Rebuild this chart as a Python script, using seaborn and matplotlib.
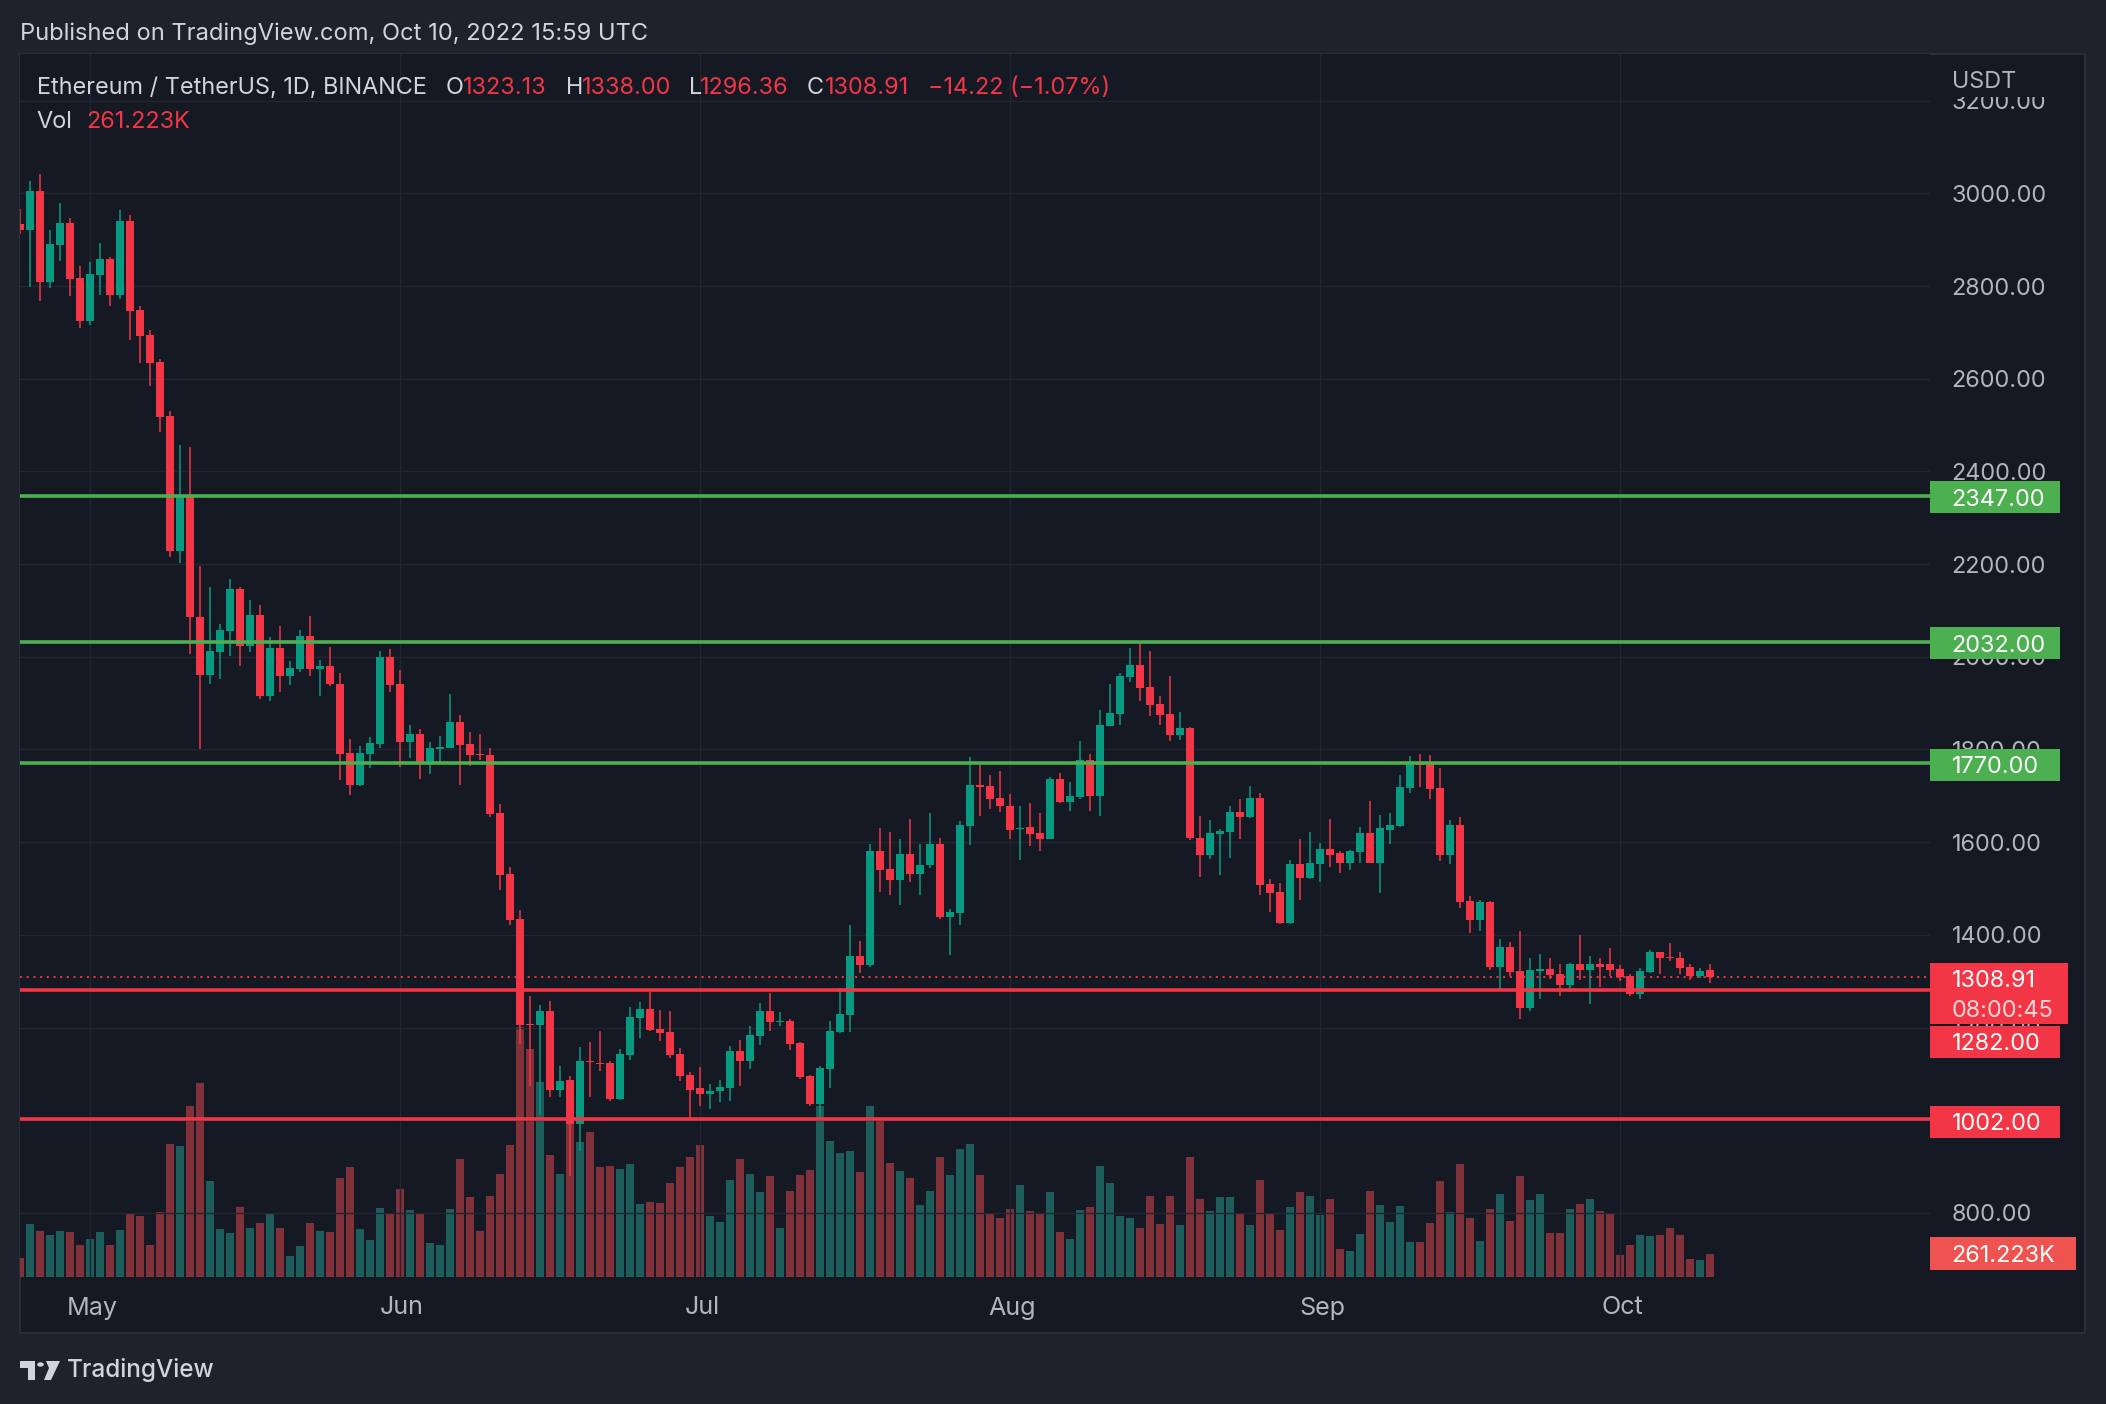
import numpy as np
import pandas as pd
import matplotlib
matplotlib.use("Agg")
import matplotlib.pyplot as plt
import seaborn as sns
from matplotlib.patches import Rectangle, Polygon, Circle

W, H, DPI = 2106, 1404, 100

# ---------------- data (day 0 = 2022-04-25, first value = 2022-04-24) ----------------
days = list(range(-1, 169))
opens = [
    2933, 2921, 3006, 2809, 2889, 2937, 2817, 2725, 2824, 2858,
    2781, 2941, 2748, 2694, 2636, 2520, 2228, 2345, 2086, 1961,
    2010, 2055, 2147, 2023, 2091, 1916, 2020, 1958, 1974, 2044,
    1974, 1981, 1942, 1793, 1724, 1791, 1812, 2000, 1942, 1817,
    1834, 1773, 1802, 1804, 1860, 1812, 1791, 1788, 1663, 1531,
    1434, 1208, 1205, 1236, 1065, 1086, 992, 1127, 1124, 1124,
    1045, 1140, 1221, 1239, 1196, 1190, 1142, 1097, 1069, 1056,
    1063, 1070, 1149, 1128, 1182, 1236, 1211, 1215, 1166, 1095,
    1034, 1110, 1190, 1227, 1354, 1335, 1581, 1543, 1519, 1575,
    1532, 1550, 1597, 1439, 1447, 1634, 1724, 1722, 1696, 1679,
    1628, 1632, 1619, 1606, 1737, 1687, 1698, 1778, 1700, 1851,
    1877, 1956, 1982, 1935, 1898, 1877, 1832, 1847, 1610, 1573,
    1617, 1623, 1666, 1655, 1696, 1509, 1492, 1425, 1552, 1522,
    1552, 1586, 1576, 1556, 1578, 1619, 1556, 1627, 1634, 1716,
    1774, 1768, 1716, 1573, 1638, 1472, 1431, 1470, 1331, 1374,
    1323, 1243, 1323, 1327, 1316, 1292, 1336, 1325, 1338, 1336,
    1327, 1312, 1273, 1320, 1362, 1351, 1351, 1331, 1312, 1323.13,
]
highs = [
    2967, 3026, 3041, 2920, 2980, 2946, 2843, 2851, 2894, 2862,
    2965, 2954, 2758, 2705, 2643, 2530, 2457, 2453, 2197, 2150,
    2071, 2168, 2150, 2123, 2111, 2042, 2066, 1992, 2057, 2089,
    1994, 2022, 1965, 1823, 1808, 1827, 2013, 2017, 1972, 1853,
    1845, 1817, 1829, 1920, 1875, 1838, 1834, 1804, 1683, 1547,
    1453, 1268, 1248, 1257, 1117, 1095, 1158, 1168, 1192, 1127,
    1153, 1244, 1255, 1277, 1237, 1236, 1155, 1103, 1114, 1078,
    1086, 1160, 1172, 1203, 1253, 1274, 1233, 1218, 1168, 1097,
    1117, 1214, 1286, 1421, 1387, 1597, 1631, 1621, 1606, 1651,
    1597, 1664, 1610, 1455, 1645, 1784, 1766, 1746, 1754, 1705,
    1679, 1685, 1664, 1741, 1750, 1730, 1819, 1791, 1885, 1941,
    1965, 2019, 2029, 2012, 1915, 1958, 1881, 1849, 1657, 1647,
    1629, 1677, 1694, 1722, 1707, 1520, 1511, 1561, 1606, 1621,
    1599, 1651, 1582, 1584, 1632, 1688, 1658, 1664, 1746, 1787,
    1790, 1788, 1761, 1647, 1655, 1483, 1476, 1472, 1392, 1385,
    1409, 1349, 1359, 1349, 1336, 1340, 1400, 1355, 1351, 1372,
    1334, 1316, 1329, 1368, 1364, 1383, 1362, 1336, 1329, 1338.00,
]
lows = [
    2913, 2798, 2768, 2796, 2854, 2779, 2710, 2717, 2781, 2757,
    2772, 2684, 2635, 2584, 2486, 2215, 2203, 2005, 1801, 1941,
    1952, 2002, 1980, 2010, 1909, 1905, 1924, 1940, 1968, 1958,
    1916, 1937, 1735, 1702, 1722, 1760, 1804, 1924, 1763, 1782,
    1737, 1747, 1773, 1804, 1724, 1765, 1778, 1655, 1496, 1422,
    1164, 1074, 1012, 1049, 1049, 880, 933, 1049, 1107, 1042,
    1043, 1130, 1178, 1192, 1171, 1134, 1084, 1003, 1030, 1025,
    1039, 1042, 1073, 1110, 1162, 1192, 1203, 1151, 1089, 1031,
    1005, 1070, 1188, 1191, 1317, 1330, 1493, 1485, 1464, 1515,
    1487, 1545, 1435, 1357, 1421, 1594, 1656, 1672, 1666, 1606,
    1561, 1591, 1580, 1606, 1685, 1668, 1694, 1668, 1657, 1851,
    1853, 1946, 1905, 1872, 1853, 1819, 1821, 1604, 1524, 1563,
    1530, 1565, 1606, 1653, 1487, 1449, 1424, 1423, 1475, 1520,
    1513, 1547, 1534, 1541, 1556, 1555, 1491, 1595, 1632, 1707,
    1720, 1694, 1560, 1552, 1457, 1405, 1409, 1325, 1279, 1312,
    1219, 1236, 1262, 1305, 1269, 1277, 1303, 1251, 1288, 1312,
    1301, 1269, 1262, 1318, 1316, 1344, 1316, 1303, 1307, 1296.36,
]
closes = [
    2921, 3006, 2809, 2890, 2937, 2815, 2725, 2826, 2858, 2781,
    2941, 2746, 2693, 2635, 2517, 2228, 2345, 2086, 1961, 2012,
    2057, 2147, 2023, 2091, 1916, 2020, 1958, 1975, 2044, 1974,
    1981, 1941, 1791, 1724, 1793, 1814, 2000, 1940, 1817, 1834,
    1773, 1804, 1806, 1860, 1810, 1788, 1788, 1661, 1530, 1433,
    1205, 1206, 1236, 1065, 1084, 992, 1127, 1125, 1122, 1045,
    1142, 1222, 1239, 1194, 1188, 1140, 1096, 1066, 1056, 1064,
    1072, 1149, 1128, 1183, 1236, 1211, 1215, 1164, 1093, 1034,
    1112, 1192, 1229, 1354, 1335, 1581, 1541, 1519, 1575, 1532,
    1550, 1597, 1439, 1449, 1636, 1724, 1720, 1694, 1677, 1627,
    1631, 1617, 1606, 1737, 1687, 1700, 1778, 1700, 1853, 1879,
    1958, 1982, 1933, 1896, 1875, 1832, 1847, 1608, 1573, 1619,
    1625, 1666, 1655, 1696, 1507, 1490, 1425, 1552, 1522, 1554,
    1586, 1573, 1556, 1580, 1619, 1556, 1630, 1636, 1718, 1774,
    1766, 1714, 1573, 1638, 1470, 1431, 1470, 1331, 1374, 1320,
    1243, 1325, 1327, 1314, 1292, 1336, 1325, 1336, 1331, 1325,
    1310, 1273, 1323, 1362, 1349, 1349, 1329, 1312, 1323, 1308.91,
]
volume_k = [
    219, 607, 526, 480, 526, 515, 365, 434, 515, 365,
    538, 722, 699, 365, 745, 1528, 1505, 1966, 2231, 1102,
    549, 503, 803, 561, 618, 722, 561, 238, 353, 618,
    526, 515, 1137, 1263, 549, 422, 791, 733, 1010, 768,
    722, 388, 365, 780, 1356, 918, 526, 929, 1183, 1517,
    2880, 2630, 2250, 1402, 1183, 1900, 1550, 1667, 1263, 1275,
    1240, 1298, 837, 860, 849, 1079, 1263, 1379, 1517, 699,
    630, 1114, 1356, 1183, 975, 1160, 561, 987, 1171, 1229,
    1966, 1563, 1425, 1448, 1206, 1966, 1793, 1309, 1217, 1137,
    826, 987, 1379, 1171, 1471, 1528, 1171, 722, 676, 780,
    1056, 756, 722, 975, 515, 434, 768, 803, 1275, 1079,
    699, 676, 561, 929, 607, 929, 595, 1379, 895, 756,
    918, 918, 722, 595, 1114, 733, 538, 803, 975, 929,
    710, 895, 319, 296, 492, 987, 826, 630, 814, 399,
    399, 618, 1102, 745, 1298, 676, 411, 780, 952, 641,
    1160, 883, 952, 503, 503, 780, 837, 895, 756, 722,
    250, 365, 480, 468, 480, 561, 480, 204, 192, 261.223,
]
green_levels = [2347.00, 2032.00, 1770.00]
red_levels = [1282.00, 1002.00]
last_price = 1308.91
price_ticks = [800, 1000, 1200, 1400, 1600, 1800, 2000, 2200, 2400, 2600, 2800, 3000, 3200]
month_labels = ["May", "Jun", "Jul", "Aug", "Sep", "Oct"]
month_days = [6, 37, 67, 98, 129, 159]   # day index of the 1st of each month

# ---------------- style ----------------
BG_OUT = "#1e222d"
BG = "#151924"
GRID = "#222632"
BORDER = "#2a2e39"
UP = "#089981"
DN = "#f23645"
VOL_UP = "#1d5d5b"
VOL_DN = "#81313a"
TXT = "#d1d4dc"
AXT = "#b2b5be"
GLINE = "#4caf50"

sns.set_theme(style="dark")
plt.rcParams["font.family"] = ["Inter", "DejaVu Sans"]

fig = plt.figure(figsize=(W / DPI, H / DPI), dpi=DPI)
fig.patch.set_facecolor(BG_OUT)
renderer = fig.canvas.get_renderer()


def rect_px(x0, y0, x1, y1, fc, ec="none", lw=0, z=1):
    r = Rectangle((x0 / W, 1 - y1 / H), (x1 - x0) / W, (y1 - y0) / H,
                  transform=fig.transFigure, facecolor=fc, edgecolor=ec,
                  linewidth=lw, zorder=z)
    fig.add_artist(r)
    return r


def text_px(x, y, s, size, color, ha="left", va="center_baseline", z=6, **kw):
    return fig.text(x / W, 1 - y / H, s, fontsize=size, color=color, ha=ha,
                    va=va, zorder=z, **kw)


def fit_size(s, target_w, **kw):
    t = fig.text(0, 0, s, fontsize=20, **kw)
    w = t.get_window_extent(renderer=renderer).width
    t.remove()
    return 20 * target_w / w


# chart frame background
rect_px(20, 54, 2085, 1333, BG, ec=BORDER, lw=1.5, z=-2)

# pane geometry in pixels
PL, PR, PT, PB = 20, 1930, 54, 1277
Y3000, PPU = 193.4, 0.4634          # pixel of 3000 and pixels per USD
def price_at(ypx):
    return 3000 - (ypx - Y3000) / PPU
def ypx_of(p):
    return Y3000 + (3000 - p) * PPU

pos = [PL / W, 1 - PB / H, (PR - PL) / W, (PB - PT) / H]
VOL_PER_PX = 11.52

ax_vol = fig.add_axes(pos, label="vol")
ax_vol.set_facecolor(BG)
ax = fig.add_axes(pos, label="price")
ax.set_zorder(ax_vol.get_zorder() + 1)
ax.patch.set_visible(False)

# ---------------- volume (seaborn) ----------------
vol_df = pd.DataFrame({
    "day": days,
    "vol": volume_k,
    "dir": ["up" if c >= o else "down" for o, c in zip(opens, closes)],
})
sns.barplot(data=vol_df, x="day", y="vol", hue="dir",
            palette={"up": VOL_UP, "down": VOL_DN}, native_scale=True,
            dodge=False, width=0.83, errorbar=None, legend=False,
            saturation=1, linewidth=0, ax=ax_vol)
ax_vol.set_xlim(-1, 190)
ax_vol.set_ylim(0, (PB - PT) * VOL_PER_PX)

# ---------------- price pane ----------------
ax.set_xlim(-1, 190)
ax.set_ylim(price_at(PB), price_at(PT))

for a in (ax, ax_vol):
    a.set_xticks([])
    a.set_yticks([])
    a.set_xlabel("")
    a.set_ylabel("")
    a.grid(False)
    for sp in a.spines.values():
        sp.set_visible(False)

for p in price_ticks:
    ax.axhline(p, color=GRID, lw=1.0, zorder=0.5)
for d in month_days:
    ax.axvline(d, color=GRID, lw=1.0, zorder=0.5)

o = np.array(opens, float)
h = np.array(highs, float)
l = np.array(lows, float)
c = np.array(closes, float)
x = np.array(days, float)
up = c >= o
cols = np.where(up, UP, DN)
ax.vlines(x, l, h, colors=cols, lw=1.1, zorder=3)
body_lo = np.minimum(o, c)
body_h = np.maximum(np.abs(c - o), 2.3)
ax.bar(x, body_h, bottom=body_lo, width=0.8, color=cols, linewidth=0, zorder=3.5)

for lv in green_levels:
    ax.axhline(lv, color=GLINE, lw=2.6, zorder=4)
for lv in red_levels:
    ax.axhline(lv, color=DN, lw=2.6, zorder=4)
ax.axhline(last_price, color=DN, lw=1.3, linestyle=(0, (1.2, 2.5)), zorder=4)

# ---------------- texts ----------------
hdr = "Published on TradingView.com, Oct 10, 2022 15:59 UTC"
fs_hdr = fit_size(hdr, 628)
text_px(20.5, 33.5, hdr, fs_hdr, TXT, va="center")

fs_leg = fit_size("Ethereum / TetherUS, 1D, BINANCE", 392)
LY = 88
text_px(36.7, LY, "Ethereum / TetherUS, 1D, BINANCE", fs_leg, TXT, va="center")
for xx, s, colr in [(446, "O", TXT), (463, "1323.13", DN), (566, "H", TXT),
                    (582, "1338.00", DN), (689, "L", TXT), (700, "1296.36", DN),
                    (807, "C", TXT), (825, "1308.91", DN),
                    (928, "\u221214.22 (\u22121.07%)", DN)]:
    text_px(xx, LY, s, fs_leg, colr, va="center")
text_px(36.7, 122, "Vol", fs_leg, TXT, va="center")
text_px(86.5, 122, "261.223K", fs_leg, DN, va="center")

fs_ax = fit_size("3000.00", 95)
for p in price_ticks:
    text_px(1951.7, ypx_of(p), f"{p:.2f}", fs_ax, AXT)
# cover of the clipped top label
rect_px(1931, 55, 2084, 97, BG, z=6.5)
text_px(1951.7, 79, "USDT", fs_ax, AXT, z=7)

# level boxes
def box(y0, y1, fc, lines, x1=2060):
    rect_px(1930, y0, x1, y1, fc, z=8)
    n = len(lines)
    hgt = (y1 - y0) / n
    for i, (s, colr) in enumerate(lines):
        text_px(1951.7, y0 + hgt * (i + 0.5), s, fs_ax, colr, z=9)

box(481, 513, GLINE, [("2347.00", "white")])
box(627, 659, GLINE, [("2032.00", "white")])
box(749, 781, GLINE, [("1770.00", "white")])
box(963, 1024, DN, [("1308.91", "white"), ("08:00:45", "#ffd6d9")], x1=2068)
box(1026, 1058, DN, [("1282.00", "white")])
box(1106, 1138, DN, [("1002.00", "white")])
box(1237, 1270, "#ef5350", [("261.223K", "white")], x1=2076)

# month labels
fs_m = fit_size("May", 51)
for d, s in zip(month_days, month_labels):
    text_px(30 + 10 * d + 2, 1308, s, fs_m, AXT, ha="center", va="center")

# TradingView logo
fig.add_artist(Polygon([(20 / W, 1 - 1361 / H), (35 / W, 1 - 1361 / H), (35 / W, 1 - 1380 / H),
                        (28 / W, 1 - 1380 / H), (28 / W, 1 - 1368 / H), (20 / W, 1 - 1368 / H)],
                       closed=True, transform=fig.transFigure, facecolor=TXT, edgecolor="none", zorder=6))
fig.add_artist(Circle((40.5 / W, 1 - 1364.5 / H), 3.3 / W, transform=fig.transFigure,
                      facecolor=TXT, edgecolor="none", zorder=6))
fig.add_artist(Polygon([(46 / W, 1 - 1361 / H), (60 / W, 1 - 1361 / H), (51 / W, 1 - 1380 / H),
                        (44 / W, 1 - 1380 / H), (49 / W, 1 - 1368 / H)],
                       closed=True, transform=fig.transFigure, facecolor=TXT, edgecolor="none", zorder=6))
fs_tv = fit_size("TradingView", 148, weight="medium")
text_px(67, 1370, "TradingView", fs_tv, TXT, va="center", weight="medium")

fig.savefig("out.png", dpi=DPI, facecolor=BG_OUT)
